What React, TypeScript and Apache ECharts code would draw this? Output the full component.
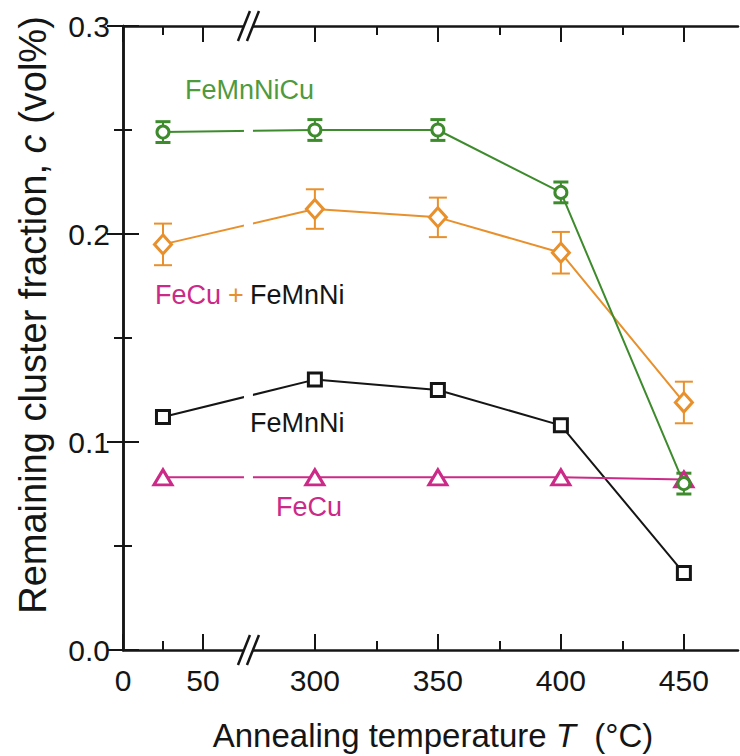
import React, { useEffect, useRef } from "react";
import * as echarts from "echarts";

// ---- data ----
const temperatures = [25, 300, 350, 400, 450];
const feMnNiCu = [0.249, 0.25, 0.25, 0.22, 0.08];
const feMnNiCuErr = [0.005, 0.005, 0.005, 0.005, 0.005];
const feCuPlusFeMnNi = [0.195, 0.212, 0.208, 0.191, 0.119];
const feCuPlusFeMnNiErr = [0.01, 0.0095, 0.0095, 0.01, 0.01];
const feMnNi = [0.112, 0.13, 0.125, 0.108, 0.037];
const feCu = [0.083, 0.083, 0.083, 0.083, 0.082];
const xMajorTicks = [0, 50, 300, 350, 400, 450];
const xMinorTicks = [25, 325, 375, 425];

// ---- broken x axis: 0..78 °C compressed, then 273..472 °C ----
const LEFT_SCALE = 0.65;
const RIGHT_OFFSET = 222;
const BREAK_U = 51;
const X_MAX_U = 250;
const toAxis = (t: number) => (t < 200 ? t * LEFT_SCALE : t - RIGHT_OFFSET);
const fromAxis = (u: number) => (u < BREAK_U ? u / LEFT_SCALE : u + RIGHT_OFFSET);

const GREEN = "#3d8b2c";
const GREEN_TXT = "#4f9a3c";
const ORANGE = "#e8902c";
const MAGENTA = "#cc2a88";
const BLACK = "#151515";
const FONT = "'Liberation Sans', Arial, Helvetica, sans-serif";

function pts(vals: number[]) {
  return temperatures.map((t, i) => [toAxis(t), vals[i]]);
}
function errPts(vals: number[], errs: number[]) {
  return temperatures.map((t, i) => [toAxis(t), vals[i] - errs[i], vals[i] + errs[i]]);
}
function errSeries(vals: number[], errs: number[], color: string, capW: number, capLW: number) {
  return {
    type: "custom",
    z: 2,
    data: errPts(vals, errs),
    encode: { x: 0, y: [1, 2] },
    renderItem: (params: any, api: any) => {
      const x = api.value(0);
      const lo = api.coord([x, api.value(1)]);
      const hi = api.coord([x, api.value(2)]);
      const hw = capW / 2;
      return {
        type: "group",
        children: [
          { type: "line", shape: { x1: lo[0], y1: lo[1], x2: hi[0], y2: hi[1] }, style: { stroke: color, lineWidth: 2 } },
          { type: "line", shape: { x1: lo[0] - hw, y1: lo[1], x2: lo[0] + hw, y2: lo[1] }, style: { stroke: color, lineWidth: capLW } },
          { type: "line", shape: { x1: hi[0] - hw, y1: hi[1], x2: hi[0] + hw, y2: hi[1] }, style: { stroke: color, lineWidth: capLW } },
        ],
      };
    },
  };
}
function lineSeries(vals: number[], color: string, symbol: string, size: any) {
  return {
    type: "line",
    z: 3,
    data: pts(vals),
    symbol,
    symbolSize: size,
    showAllSymbol: true,
    lineStyle: { color, width: 2 },
    itemStyle: { color: "#ffffff", borderColor: color, borderWidth: 3 },
  };
}

const baseX = {
  type: "value",
  min: 0,
  max: X_MAX_U,
  splitLine: { show: false },
  gridIndex: 0,
};

export default function App() {
  const ref = useRef<HTMLDivElement>(null);
  useEffect(() => {
    if (!ref.current) return;
    const chart = echarts.init(ref.current, null, { renderer: "svg" });
    const tickLabel = { fontFamily: FONT, fontSize: 30, color: BLACK };
    const axisLine = { show: true, lineStyle: { color: BLACK, width: 2.5 } };
    const option: any = {
      animation: false,
      backgroundColor: "#ffffff",
      grid: { left: 123, right: 2, top: 26, bottom: 106, containLabel: false, outerBoundsMode: "none" },
      xAxis: [
        {
          ...baseX,
          position: "bottom",
          axisLine,
          axisTick: { show: true, inside: true, length: 16, lineStyle: { color: BLACK, width: 2 }, customValues: xMajorTicks.map(toAxis) },
          axisLabel: { ...tickLabel, margin: 15, customValues: xMajorTicks.map(toAxis), formatter: (v: number) => String(Math.round(fromAxis(v))) },
        },
        {
          ...baseX,
          position: "bottom",
          axisLine: { show: false },
          axisTick: { show: true, inside: true, length: 9, lineStyle: { color: BLACK, width: 2 }, customValues: xMinorTicks.map(toAxis) },
          axisLabel: { show: false },
        },
        {
          ...baseX,
          position: "top",
          axisLine,
          axisTick: { show: true, inside: true, length: 16, lineStyle: { color: BLACK, width: 2 }, customValues: xMajorTicks.map(toAxis) },
          axisLabel: { show: false },
        },
        {
          ...baseX,
          position: "top",
          axisLine: { show: false },
          axisTick: { show: true, inside: true, length: 9, lineStyle: { color: BLACK, width: 2 }, customValues: xMinorTicks.map(toAxis) },
          axisLabel: { show: false },
        },
      ],
      yAxis: [
        {
          type: "value",
          position: "left",
          min: 0,
          max: 0.3,
          interval: 0.1,
          splitLine: { show: false },
          axisLine,
          axisTick: { show: true, inside: true, length: 16, lineStyle: { color: BLACK, width: 2 } },
          minorTick: { show: true, splitNumber: 2, length: 9, lineStyle: { color: BLACK, width: 2 } },
          axisLabel: { ...tickLabel, margin: 13, formatter: (v: number) => v.toFixed(1) },
        },
        {
          type: "value",
          position: "right",
          min: 0,
          max: 0.3,
          interval: 0.1,
          splitLine: { show: false },
          axisLine,
          axisTick: { show: true, inside: true, length: 16, lineStyle: { color: BLACK, width: 2 } },
          minorTick: { show: true, splitNumber: 2, length: 9, lineStyle: { color: BLACK, width: 2 } },
          axisLabel: { show: false },
        },
      ],
      series: [
        errSeries(feMnNiCu, feMnNiCuErr, GREEN, 15, 3),
        errSeries(feCuPlusFeMnNi, feCuPlusFeMnNiErr, ORANGE, 18, 2),
        lineSeries(feCuPlusFeMnNi, ORANGE, "diamond", [17, 19]),
        lineSeries(feMnNi, BLACK, "rect", 13),
        lineSeries(feCu, MAGENTA, "triangle", [18, 15]),
        lineSeries(feMnNiCu, GREEN, "circle", 12),
      ],
    };
    chart.setOption(option);

    const bx = chart.convertToPixel({ xAxisIndex: 0 }, BREAK_U) as number;
    const yTop = chart.convertToPixel({ yAxisIndex: 0 }, 0.3) as number;
    const yBot = chart.convertToPixel({ yAxisIndex: 0 }, 0) as number;
    const slash = (cx: number, cy: number) => ({
      type: "line",
      z: 101,
      shape: { x1: cx - 6, y1: cy + 15, x2: cx + 6, y2: cy - 15 },
      style: { stroke: BLACK, lineWidth: 2.5 },
    });
    const txt = (text: string, x: number, y: number, color: string, size: number, align = "left") => ({
      type: "text",
      z: 102,
      x,
      y,
      style: { text, fill: color, font: `${size}px ${FONT}`, align, verticalAlign: "middle" },
    });
    chart.setOption({
      graphic: [
        { type: "rect", z: 100, shape: { x: bx - 4.5, y: yTop - 3, width: 9, height: yBot - yTop + 6 }, style: { fill: "#ffffff" } },
        slash(bx - 4.5, yBot),
        slash(bx + 4.5, yBot),
        slash(bx - 4.5, yTop),
        slash(bx + 4.5, yTop),
        txt("FeMnNiCu", 185, 90, GREEN_TXT, 27),
        txt("FeCu", 155, 295, MAGENTA, 27),
        txt("+", 236, 295, ORANGE, 27, "center"),
        txt("FeMnNi", 250, 295, BLACK, 27),
        txt("FeMnNi", 250, 423, BLACK, 27),
        txt("FeCu", 276, 507, MAGENTA, 27),
        {
          type: "text",
          z: 102,
          x: 433,
          y: 735,
          style: {
            text: "{a|Annealing temperature }{i|T}{a|  (°C)}",
            align: "center",
            verticalAlign: "middle",
            font: `33px ${FONT}`,
            fill: BLACK,
            rich: {
              a: { fontFamily: FONT, fontSize: 33, fill: BLACK, color: BLACK },
              i: { fontFamily: FONT, fontSize: 33, fontStyle: "italic", fill: BLACK, color: BLACK },
            },
          },
        },
        {
          type: "text",
          z: 102,
          x: 33,
          y: 315,
          rotation: Math.PI / 2,
          style: {
            text: "{a|Remaining cluster fraction, }{i|c}{a| (vol%)}",
            align: "center",
            verticalAlign: "middle",
            font: `38px ${FONT}`,
            fill: BLACK,
            rich: {
              a: { fontFamily: FONT, fontSize: 38, fill: BLACK, color: BLACK },
              i: { fontFamily: FONT, fontSize: 38, fontStyle: "italic", fill: BLACK, color: BLACK },
            },
          },
        },
      ],
    });
    return () => chart.dispose();
  }, []);
  return (
    <div
      ref={ref}
      style={{ position: "fixed", left: 0, top: 0, width: 740, height: 756, background: "#fff" }}
    />
  );
}
